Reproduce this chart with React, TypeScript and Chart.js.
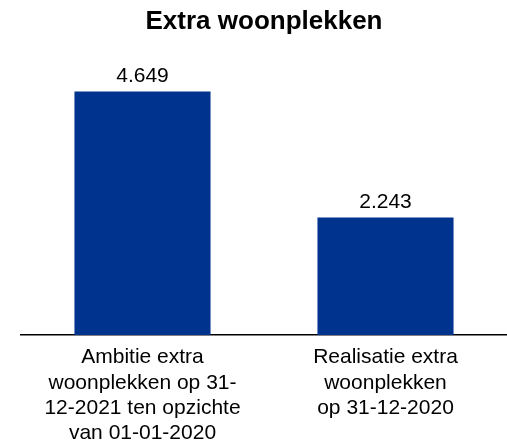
import React, { useEffect, useRef } from "react";
import { Chart, registerables } from "chart.js";

Chart.register(...registerables);

const chartTitle = "Extra woonplekken";
const categoryLabels: string[][] = [
  ["Ambitie extra", "woonplekken op 31-", "12-2021 ten opzichte", "van 01-01-2020"],
  ["Realisatie extra", "woonplekken", "op 31-12-2020"],
];
const values: number[] = [4649, 2243];
const barColor = "#00338d";
const FONT = "'Liberation Sans', Arial, Helvetica, sans-serif";

function formatNL(v: number): string {
  const s = Math.round(v).toString();
  return s.replace(/\B(?=(\d{3})+(?!\d))/g, ".");
}

const valueLabelPlugin = {
  id: "valueLabels",
  afterDatasetsDraw(chart: any) {
    const ctx = chart.ctx;
    const meta = chart.getDatasetMeta(0);
    ctx.save();
    ctx.font = `21px ${FONT}`;
    ctx.fillStyle = "#000";
    ctx.textAlign = "center";
    ctx.textBaseline = "alphabetic";
    meta.data.forEach((bar: any, i: number) => {
      ctx.fillText(formatNL(values[i]), bar.x, bar.y - 10);
    });
    ctx.restore();
  },
};

export default function App() {
  const ref = useRef<HTMLCanvasElement>(null);
  useEffect(() => {
    document.body.style.margin = "0";
    const chart = new Chart(ref.current!, {
      type: "bar",
      data: {
        labels: categoryLabels,
        datasets: [
          {
            data: values,
            backgroundColor: barColor,
            borderWidth: 0,
            barPercentage: 0.56,
            categoryPercentage: 1,
          },
        ],
      },
      options: {
        responsive: false,
        animation: false,
        layout: { padding: { left: 21, right: 0, top: 0, bottom: 0 } },
        plugins: {
          legend: { display: false },
          tooltip: { enabled: false },
          title: {
            display: true,
            text: chartTitle,
            color: "#000",
            font: { family: FONT, size: 26, weight: "bold", lineHeight: 1.2 },
            padding: { top: 6, bottom: 36 },
          },
        },
        scales: {
          x: {
            grid: { display: false, drawTicks: false },
            border: { display: true, color: "#000", width: 1.5 },
            ticks: {
              color: "#000",
              font: { family: FONT, size: 21, lineHeight: 1.2 },
              padding: 10,
              maxRotation: 0,
              autoSkip: false,
            },
            afterFit: (scale: any) => {
              scale.height = 109;
            },
          },
          y: {
            display: false,
            min: 0,
            max: 5000,
          },
        },
      },
      plugins: [valueLabelPlugin],
    });
    return () => chart.destroy();
  }, []);
  return (
    <div style={{ width: 507, height: 444 }}>
      <canvas ref={ref} width={507} height={444} />
    </div>
  );
}
